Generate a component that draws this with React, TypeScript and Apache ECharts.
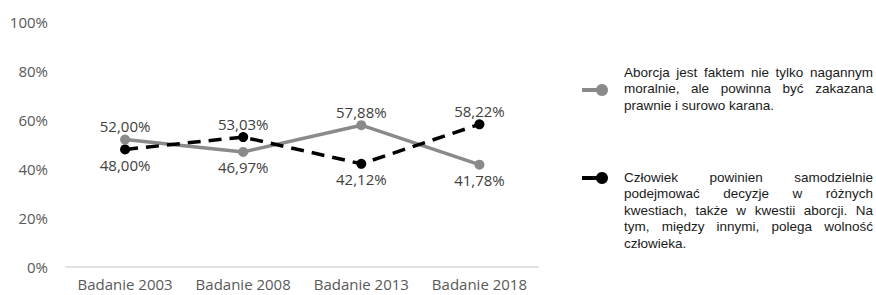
import React, { useEffect, useRef } from "react";
import * as echarts from "echarts";

const categories = ["Badanie 2003", "Badanie 2008", "Badanie 2013", "Badanie 2018"];
const seriesNames = [
  "Aborcja jest faktem nie tylko nagannym moralnie, ale powinna być zakazana prawnie i surowo karana.",
  "Człowiek powinien samodzielnie podejmować decyzje w różnych kwestiach, także w kwestii aborcji. Na tym, między innymi, polega wolność człowieka.",
];
const valuesBan = [52.0, 46.97, 57.88, 41.78];
const valuesFreedom = [48.0, 53.03, 42.12, 58.22];
const yTicks = [0, 20, 40, 60, 80, 100];

const legendLines1 = [
  "Aborcja jest faktem nie tylko nagannym",
  "moralnie, ale powinna być zakazana",
  "prawnie i surowo karana.",
];
const legendLines2 = [
  "Człowiek powinien samodzielnie",
  "podejmować decyzje w różnych",
  "kwestiach, także w kwestii aborcji. Na",
  "tym, między innymi, polega wolność",
  "człowieka.",
];

const GRAY = "#8a8a8a";
const BLACK = "#000000";
const LABEL_FONT = '"Open Sans", "Noto Sans", sans-serif';
const LEG_FONT_SIZE = 13.5;
const LEG_FONT = '"Liberation Sans", Arial, sans-serif';

function fmt(v: number) {
  return v.toFixed(2).replace(".", ",") + "%";
}

function buildLegendText(lines: string[], x0: number, y0: number, lh: number, width: number, ctx: CanvasRenderingContext2D | null) {
  const els: any[] = [];
  lines.forEach((line, i) => {
    const y = y0 + i * lh;
    const isLast = i === lines.length - 1;
    const words = line.split(" ");
    if (isLast || words.length < 2 || !ctx) {
      els.push({
        type: "text",
        x: x0,
        y,
        style: { text: line, font: `${LEG_FONT_SIZE}px ${LEG_FONT}`, fill: "#1a1a1a", textVerticalAlign: "middle", textAlign: "left" },
      });
      return;
    }
    const widths = words.map((w) => ctx.measureText(w).width);
    const total = widths.reduce((a, b) => a + b, 0);
    const gap = (width - total) / (words.length - 1);
    let x = x0;
    words.forEach((w, k) => {
      els.push({
        type: "text",
        x,
        y,
        style: { text: w, font: `${LEG_FONT_SIZE}px ${LEG_FONT}`, fill: "#1a1a1a", textVerticalAlign: "middle", textAlign: "left" },
      });
      x += widths[k] + gap;
    });
  });
  return els;
}

export default function App() {
  const ref = useRef<HTMLDivElement>(null);
  useEffect(() => {
    if (!ref.current) return;
    const chart = echarts.init(ref.current, undefined, { renderer: "svg" });
    const canvas = document.createElement("canvas");
    const ctx = canvas.getContext("2d");
    if (ctx) ctx.font = `${LEG_FONT_SIZE}px ${LEG_FONT}`;

    const mk = (v: number, above: boolean) => ({
      value: v,
      label: above ? { position: "top", distance: 1 } : { position: "bottom", distance: 3 },
    });
    const dataBan = valuesBan.map((v, i) => mk(v, v >= valuesFreedom[i]));
    const dataFreedom = valuesFreedom.map((v, i) => mk(v, v > valuesBan[i]));

    const labelStyle = {
      show: true,
      formatter: (p: any) => fmt(p.value),
      color: "#404040",
      fontFamily: LABEL_FONT,
      fontSize: 15,
    };

    const textX = 624;
    const textW = 249;
    const graphics: any[] = [
      { type: "line", shape: { x1: 582, y1: 90, x2: 600, y2: 90 }, style: { stroke: GRAY, lineWidth: 4 } },
      { type: "circle", shape: { cx: 602, cy: 90, r: 6 }, style: { fill: GRAY } },
      { type: "line", shape: { x1: 582, y1: 178, x2: 600, y2: 178 }, style: { stroke: BLACK, lineWidth: 4 } },
      { type: "circle", shape: { cx: 602, cy: 178, r: 6 }, style: { fill: BLACK } },
      ...buildLegendText(legendLines1, textX, 72, 16.5, textW, ctx),
      ...buildLegendText(legendLines2, textX, 177, 16.5, textW, ctx),
    ];

    chart.setOption({
      animation: false,
      backgroundColor: "#ffffff",
      grid: { left: 66, right: 337.5, top: 22, bottom: 28, containLabel: false },
      xAxis: {
        type: "category",
        data: categories,
        boundaryGap: true,
        axisLine: { lineStyle: { color: "#d9d9d9", width: 1.5 } },
        axisTick: { show: false },
        axisLabel: { color: "#595959", fontFamily: LABEL_FONT, fontSize: 15, lineHeight: 14, margin: 10, interval: 0 },
      },
      yAxis: {
        type: "value",
        min: yTicks[0],
        max: yTicks[yTicks.length - 1],
        interval: 20,
        axisLine: { show: false },
        axisTick: { show: false },
        splitLine: { show: false },
        axisLabel: { color: "#595959", fontFamily: LABEL_FONT, fontSize: 15, margin: 18, formatter: "{value}%" },
      },
      series: [
        {
          name: seriesNames[0],
          type: "line",
          data: dataBan,
          symbol: "circle",
          symbolSize: 10,
          lineStyle: { color: GRAY, width: 3.5 },
          itemStyle: { color: GRAY },
          label: labelStyle,
          z: 2,
        },
        {
          name: seriesNames[1],
          type: "line",
          data: dataFreedom,
          symbol: "circle",
          symbolSize: 10,
          lineStyle: { color: BLACK, width: 3.5, type: [13, 8] },
          itemStyle: { color: BLACK },
          label: labelStyle,
          z: 3,
        },
      ],
      graphic: graphics,
    });
    return () => chart.dispose();
  }, []);
  return <div ref={ref} style={{ position: "fixed", left: 0, top: 0, width: 876, height: 295 }} />;
}
